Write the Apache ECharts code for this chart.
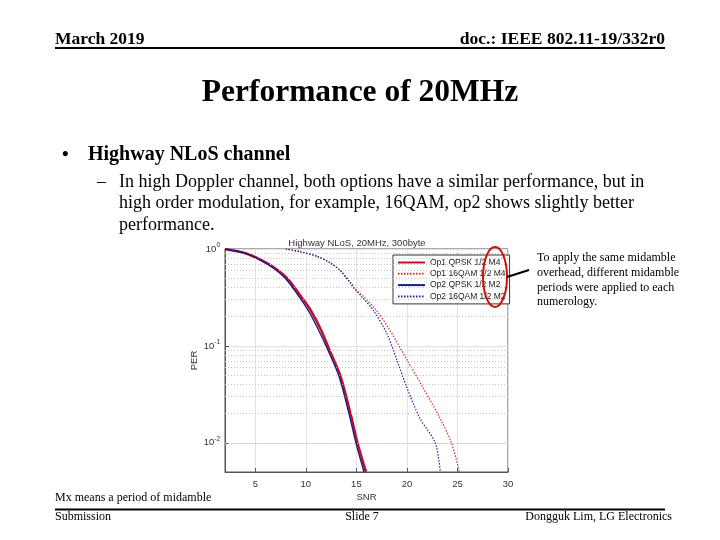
<!DOCTYPE html>
<html>
<head>
<meta charset="utf-8">
<script src="https://cdn.jsdelivr.net/npm/echarts@6/dist/echarts.min.js"></script>
<style>html,body{margin:0;padding:0;background:#fff}#c{width:720px;height:540px}</style>
</head>
<body>
<div id="c"></div>
<script>
// ---- data ----
const seriesNames = ['Op1 QPSK 1/2 M4', 'Op1 16QAM 1/2 M4', 'Op2 QPSK 1/2 M2', 'Op2 16QAM 1/2 M2'];
const snrOp1Qpsk = [2.0, 4.0, 5.5, 6.85, 8.2, 9.5, 10.5, 11.5, 12.45, 13.45, 14.45, 15.1, 15.95];
const perOp1Qpsk = [1.0, 0.906, 0.778, 0.644, 0.493, 0.325, 0.231, 0.146, 0.085, 0.0477, 0.0193, 0.010, 0.005];
const snrOp2Qpsk = [2.0, 4.0, 5.4, 6.7, 8.0, 9.3, 10.25, 11.25, 12.3, 13.3, 14.3, 14.95, 15.75];
const perOp2Qpsk = [1.0, 0.906, 0.778, 0.644, 0.493, 0.325, 0.231, 0.146, 0.085, 0.0477, 0.0193, 0.010, 0.005];
const snrOp1Qam = [8.0, 9.4, 11.1, 12.4, 13.4, 14.4, 15.0, 15.7, 17.0, 18.3, 20.0, 21.6, 23.3, 24.4, 25.2];
const perOp1Qam = [1.0, 0.94, 0.84, 0.72, 0.60, 0.457, 0.378, 0.325, 0.231, 0.146, 0.072, 0.037, 0.0178, 0.010, 0.005];
const snrOp2Qam = [8.0, 9.4, 11.1, 12.4, 13.4, 14.3, 14.9, 15.5, 16.7, 18.0, 19.0, 20.0, 21.3, 22.8, 23.3];
const perOp2Qam = [1.0, 0.94, 0.84, 0.72, 0.60, 0.457, 0.378, 0.325, 0.231, 0.135, 0.072, 0.037, 0.0178, 0.010, 0.005];
const minorGridValues = [0.9, 0.8, 0.7, 0.6, 0.5, 0.4, 0.3, 0.2, 0.09, 0.08, 0.07, 0.06, 0.05, 0.04, 0.03, 0.02, 0.009, 0.008, 0.007, 0.006];
const bodyLines = [
  'In high Doppler channel, both options have a similar performance, but in',
  'high order modulation, for example, 16QAM, op2 shows slightly better',
  'performance.'
];
const noteLines = ['To apply the same midamble', 'overhead, different midamble', 'periods were applied to each', 'numerology.'];

function zip(xs, ys) { return xs.map((x, i) => [x, ys[i]]); }

const serif = '"Liberation Serif", "Times New Roman", serif';
const sans = '"Liberation Sans", Arial, sans-serif';

const chart = echarts.init(document.getElementById('c'));

const graphics = [
  { type: 'text', style: { text: 'March 2019', x: 55, y: 39, font: 'bold 17.5px ' + serif, fill: '#000', textVerticalAlign: 'middle' } },
  { type: 'text', style: { text: 'doc.: IEEE 802.11-19/332r0', x: 665, y: 39, font: 'bold 17.5px ' + serif, fill: '#000', textAlign: 'right', textVerticalAlign: 'middle' } },
  { type: 'line', shape: { x1: 55, y1: 48, x2: 665, y2: 48 }, style: { stroke: '#000', lineWidth: 2 } },
  { type: 'text', style: { text: 'Performance of 20MHz', x: 360, y: 93, font: 'bold 31.5px ' + serif, fill: '#000', textAlign: 'center', textVerticalAlign: 'middle' } },
  { type: 'text', style: { text: '•', x: 62, y: 155, font: 'bold 19px ' + serif, fill: '#000', textVerticalAlign: 'middle' } },
  { type: 'text', style: { text: 'Highway NLoS channel', x: 88, y: 155, font: 'bold 20px ' + serif, fill: '#000', textVerticalAlign: 'middle' } },
  { type: 'text', style: { text: '–', x: 97, y: 182, font: '18px ' + serif, fill: '#000', textVerticalAlign: 'middle' } },
  { type: 'text', style: { text: 'Mx means a period of midamble', x: 55, y: 498, font: '12px ' + serif, fill: '#000', textVerticalAlign: 'middle' } },
  { type: 'line', shape: { x1: 55, y1: 509.5, x2: 665, y2: 509.5 }, style: { stroke: '#000', lineWidth: 2 } },
  { type: 'text', style: { text: 'Submission', x: 55, y: 517, font: '12px ' + serif, fill: '#000', textVerticalAlign: 'middle' } },
  { type: 'text', style: { text: 'Slide 7', x: 362, y: 517, font: '12px ' + serif, fill: '#000', textAlign: 'center', textVerticalAlign: 'middle' } },
  { type: 'text', style: { text: 'Dongguk Lim, LG Electronics', x: 672, y: 517, font: '12px ' + serif, fill: '#000', textAlign: 'right', textVerticalAlign: 'middle' } },
  { type: 'ellipse', shape: { cx: 495, cy: 277, rx: 12, ry: 30 }, style: { stroke: '#d01010', lineWidth: 2, fill: null }, z: 100 },
  { type: 'line', shape: { x1: 507, y1: 277, x2: 529, y2: 270 }, style: { stroke: '#000', lineWidth: 2 }, z: 100 }
];
bodyLines.forEach((t, i) => graphics.push({ type: 'text', style: { text: t, x: 119, y: 182 + i * 21.5, font: '18px ' + serif, fill: '#000', textVerticalAlign: 'middle' } }));
noteLines.forEach((t, i) => graphics.push({ type: 'text', style: { text: t, x: 537, y: 258 + i * 14.7, font: '12px ' + serif, fill: '#000', textVerticalAlign: 'middle' } }));

const styles = [
  { color: '#c01028', width: 2.6, type: 'solid' },
  { color: '#d03030', width: 1.2, type: [1.5, 1.5] },
  { color: '#18188a', width: 1.3, type: 'solid' },
  { color: '#24249a', width: 1.2, type: [1.5, 1.5] }
];
const dataSets = [zip(snrOp1Qpsk, perOp1Qpsk), zip(snrOp1Qam, perOp1Qam), zip(snrOp2Qpsk, perOp2Qpsk), zip(snrOp2Qam, perOp2Qam)];

const series = seriesNames.map((n, i) => ({
  name: n, type: 'line', data: dataSets[i], symbol: 'none', smooth: 0.3,
  lineStyle: styles[i], itemStyle: { color: styles[i].color }, z: 3 + i
}));
series.push({
  type: 'line', data: [], symbol: 'none', silent: true,
  markLine: {
    silent: true, symbol: 'none', label: { show: false },
    lineStyle: { color: '#c4c4c4', type: [1, 2], width: 1 },
    data: minorGridValues.map(v => ({ yAxis: v }))
  }
});

chart.setOption({
  animation: false,
  backgroundColor: '#fff',
  title: { text: 'Highway NLoS, 20MHz, 300byte', left: 352, top: 233, textAlign: 'center',
    textStyle: { fontFamily: sans, fontSize: 9.5, fontWeight: 'normal', color: '#333' } },
  grid: { left: 225, top: 249, right: 212, bottom: 68, show: true, borderColor: '#555', borderWidth: 1, backgroundColor: '#fff' },
  legend: {
    data: seriesNames, orient: 'vertical', left: 393, top: 255, padding: [3, 4, 3, 4],
    itemWidth: 27, itemHeight: 8, itemGap: 2.3, backgroundColor: '#fff', borderColor: '#333', borderWidth: 1,
    itemStyle: { opacity: 0 },
    textStyle: { fontFamily: sans, fontSize: 8.5, color: '#222' }, selectedMode: false
  },
  xAxis: {
    type: 'value', min: 2, max: 30, splitNumber: 6, name: 'SNR', nameLocation: 'middle', nameGap: 20,
    nameTextStyle: { fontFamily: sans, fontSize: 9.5, color: '#333' },
    axisLine: { lineStyle: { color: '#555' } }, axisTick: { inside: true, length: 4, lineStyle: { color: '#555' } },
    axisLabel: { showMinLabel: false, fontFamily: sans, fontSize: 9.5, color: '#333', margin: 7 },
    splitLine: { lineStyle: { color: '#e2e2e2' } }
  },
  yAxis: {
    type: 'log', logBase: 10, min: 0.005, max: 1, name: 'PER', nameLocation: 'middle', nameGap: 21,
    nameTextStyle: { fontFamily: sans, fontSize: 9.5, color: '#333' },
    axisLine: { show: true, lineStyle: { color: '#555' } }, axisTick: { inside: true, length: 4, lineStyle: { color: '#555' } },
    axisLabel: {
      fontFamily: sans, fontSize: 9.5, color: '#333', margin: 5,
      formatter: function (v) {
        const e = Math.log10(v); const r = Math.round(e);
        if (Math.abs(e - r) > 1e-6) return '';
        return '{b|10}{s|' + r + '}';
      },
      rich: { b: { fontFamily: sans, fontSize: 9.5, color: '#333' }, s: { fontFamily: sans, fontSize: 6.5, color: '#333', padding: [0, 0, 8, 0] } }
    },
    splitLine: { lineStyle: { color: '#e2e2e2' } }
  },
  series: series,
  graphic: graphics
});
</script>
</body>
</html>
